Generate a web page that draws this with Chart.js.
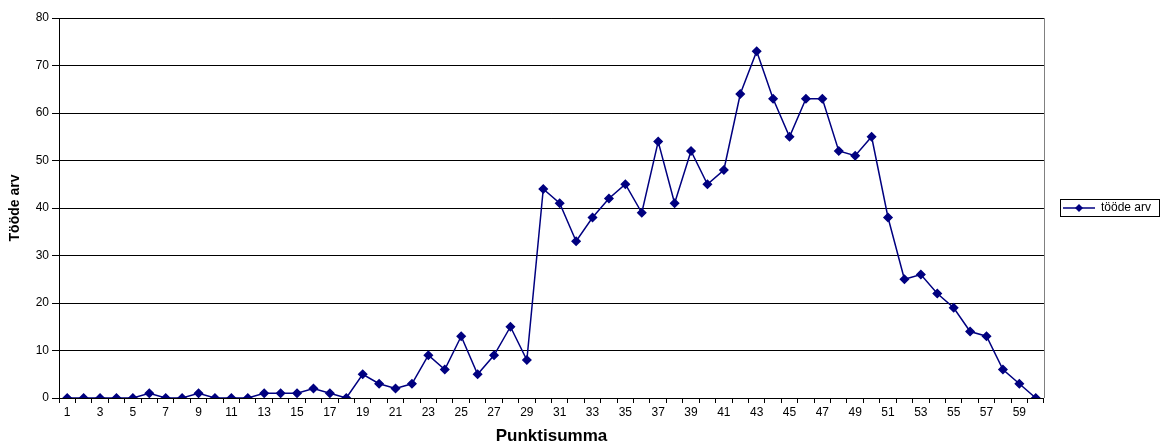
<!DOCTYPE html>
<html>
<head>
<meta charset="utf-8">
<script src="https://cdn.jsdelivr.net/npm/chart.js@4/dist/chart.umd.min.js"></script>
<style>
  body { margin: 0; background: #fff; }
  #wrap { width: 1161px; height: 444px; }
</style>
</head>
<body>
<div id="wrap"><canvas id="chart" width="1161" height="444"></canvas></div>
<script>
const points = [];
for (let i = 1; i <= 60; i++) points.push(String(i));

const workCounts = [
    0, 0, 0, 0, 0, 1, 0, 0, 1, 0,
    0, 0, 1, 1, 1, 2, 1, 0, 5, 3,
    2, 3, 9, 6, 13, 5, 9, 15, 8, 44,
    41, 33, 38, 42, 45, 39, 54, 41, 52, 45,
    48, 64, 73, 63, 55, 63, 63, 52, 51, 55,
    38, 25, 26, 22, 19, 14, 13, 6, 3, 0
];

const yTicks = [0, 10, 20, 30, 40, 50, 60, 70, 80];

const NAVY = '#000080';
const FONT = "'Liberation Sans', Arial, sans-serif";

// legend sample: line with a diamond in the middle
function legendSample() {
    const c = document.createElement('canvas');
    c.width = 32; c.height = 10;
    const g = c.getContext('2d');
    g.strokeStyle = NAVY;
    g.lineWidth = 1.5;
    g.beginPath(); g.moveTo(0, 5); g.lineTo(32, 5); g.stroke();
    g.fillStyle = NAVY;
    g.beginPath(); g.moveTo(16, 1); g.lineTo(20, 5); g.lineTo(16, 9); g.lineTo(12, 5); g.closePath(); g.fill();
    return c;
}

const frame = {
    id: 'frame',
    afterLayout(chart) {
        // center the legend on the plot area instead of the whole canvas
        const lg = chart.legend, a = chart.chartArea;
        const shift = (a.top + a.bottom) / 2 - (lg.top + lg.bottom) / 2;
        lg.top += shift;
        lg.bottom += shift;
        (lg.legendHitBoxes || []).forEach(b => { b.top += shift; });
    },
    afterDraw(chart) {
        const a = chart.chartArea, ctx = chart.ctx;
        ctx.save();
        ctx.strokeStyle = '#808080';
        ctx.lineWidth = 1;
        ctx.beginPath();
        ctx.moveTo(Math.round(a.right) + 0.5, a.top);
        ctx.lineTo(Math.round(a.right) + 0.5, a.bottom);
        ctx.stroke();
        const boxes = chart.legend.legendHitBoxes;
        if (boxes && boxes.length) {
            const b = boxes[0];
            ctx.strokeStyle = '#000';
            ctx.strokeRect(Math.round(b.left) - 2.5, Math.round(b.top) - 2.5, Math.round(b.width) + 11, Math.round(b.height) + 5);
        }
        ctx.restore();
    }
};

new Chart(document.getElementById('chart'), {
    type: 'line',
    data: {
        labels: points,
        datasets: [{
            label: 'tööde arv',
            data: workCounts,
            borderColor: NAVY,
            backgroundColor: NAVY,
            borderWidth: 1.5,
            pointStyle: 'rectRot',
            pointRadius: 4,
            pointHoverRadius: 4,
            tension: 0
        }]
    },
    options: {
        responsive: false,
        animation: false,
        layout: { padding: { top: 18, right: 0, left: 0, bottom: 0 } },
        plugins: {
            legend: {
                position: 'right',
                labels: {
                    color: '#000',
                    font: { family: FONT, size: 12 },
                    padding: 19,
                    usePointStyle: true,
                    pointStyleWidth: 32,
                    generateLabels(chart) {
                        return [{
                            text: 'tööde arv',
                            pointStyle: legendSample(),
                            fontColor: '#000',
                            lineWidth: 0,
                            datasetIndex: 0
                        }];
                    }
                }
            },
            tooltip: { enabled: false }
        },
        scales: {
            x: {
                offset: true,
                grid: { offset: true, drawOnChartArea: false, color: '#000', tickLength: 5 },
                border: { color: '#000', width: 1 },
                ticks: {
                    autoSkip: false,
                    maxRotation: 0,
                    color: '#000',
                    font: { family: FONT, size: 12 },
                    padding: 2,
                    callback(v, i) { return i % 2 === 0 ? points[i] : ''; }
                },
                title: {
                    display: true,
                    text: 'Punktisumma',
                    color: '#000',
                    font: { family: FONT, size: 17, weight: 'bold' },
                    padding: { top: 3, bottom: -3 }
                },
                afterFit(s) { s.height = 46; }
            },
            y: {
                min: 0,
                max: 80,
                afterBuildTicks(s) { s.ticks = yTicks.map(v => ({ value: v })); },
                grid: { color: '#000', tickLength: 7 },
                border: { color: '#000', width: 1 },
                ticks: {
                    color: '#000',
                    font: { family: FONT, size: 12 },
                    padding: 3
                },
                title: {
                    display: true,
                    text: 'Tööde arv',
                    color: '#000',
                    font: { family: FONT, size: 14, weight: 'bold' },
                    padding: { top: 7, bottom: 2 }
                },
                afterFit(s) { s.width = 59; }
            }
        }
    },
    plugins: [frame]
});
</script>
</body>
</html>
